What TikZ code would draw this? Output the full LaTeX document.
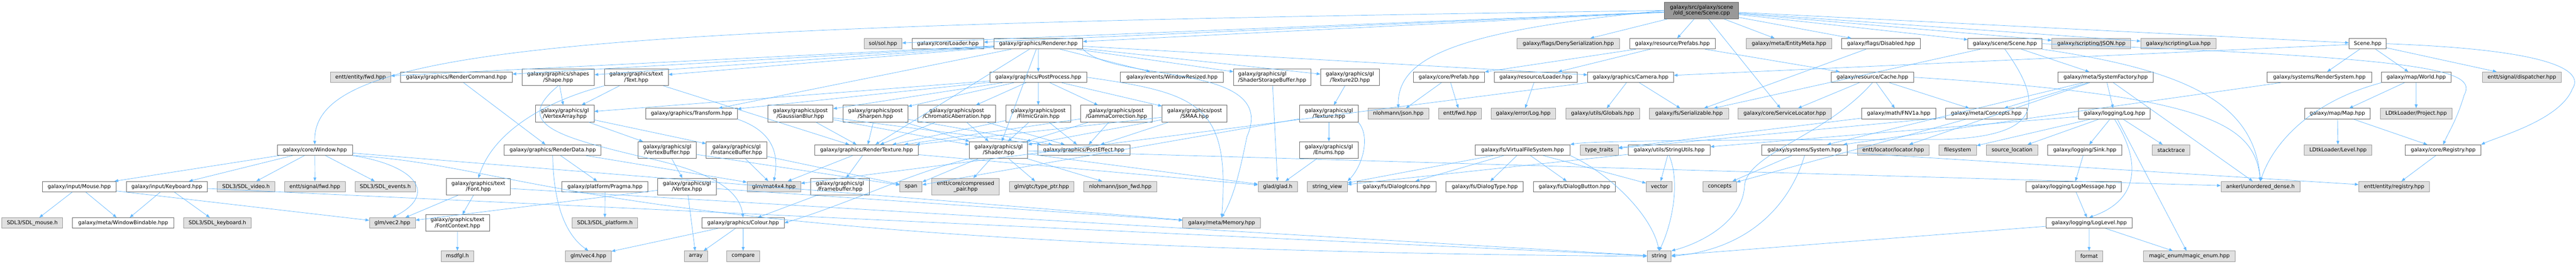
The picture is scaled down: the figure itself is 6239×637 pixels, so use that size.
\documentclass[tikz,border=0pt]{standalone}
\usepackage{fontspec}
\setmainfont{DejaVu Sans}
\usetikzlibrary{arrows.meta}
\definecolor{edgeblue}{HTML}{63B8FF}
\definecolor{wborder}{HTML}{666666}
\definecolor{gborder}{HTML}{999999}
\definecolor{gfill}{HTML}{E0E0E0}
\definecolor{rfill}{HTML}{999999}
\newcommand\nf{\fontsize{12.7}{14.2}\selectfont}
\newcommand\N[6]{\node[#1, minimum width={(#4-#3)*1pt}] (#2) at ({(#3+#4)/2},#5) {#6};}
\begin{document}
\begin{tikzpicture}[x=1pt,y=-1pt,
 wn/.style={draw=wborder, fill=white, line width=1pt, inner xsep=1pt, inner ysep=0pt, minimum height=25.5pt, font=\nf, align=center, text=black},
 gn/.style={wn, draw=gborder, fill=gfill},
 rn/.style={wn, draw=wborder, fill=rfill},
 twoline/.style={minimum height=40.5pt},
 dep/.style={draw=edgeblue, line width=0.9pt, -{Triangle[length=9pt,width=7pt]}}]
\fill[white] (0,0) rectangle (6239,637);
\useasboundingbox (0,0) rectangle (6239,637);
% R0
\N{rn,twoline}{root}{4031.4}{4211}{25.4}{galaxy/src/galaxy/scene\\/old\_scene/Scene.cpp}
% R1
\N{gn}{sol}{2092.7}{2184.3}{105.6}{sol/sol.hpp}
\N{wn}{coreloader}{2209.1}{2382.4}{105.6}{galaxy/core/Loader.hpp}
\N{wn}{renderer}{2407.2}{2622.4}{105.6}{galaxy/graphics/Renderer.hpp}
\N{gn}{denyser}{3674.5}{3922.2}{105.6}{galaxy/flags/DenySerialization.hpp}
\N{wn}{prefabs}{3946.9}{4154.1}{105.6}{galaxy/resource/Prefabs.hpp}
\N{gn}{entitymeta}{4229.3}{4436.5}{105.6}{galaxy/meta/EntityMeta.hpp}
\N{wn}{disabled}{4460.5}{4651.1}{105.6}{galaxy/flags/Disabled.hpp}
\N{wn}{scenescene}{4766.2}{4945.3}{105.6}{galaxy/scene/Scene.hpp}
\N{gn}{json}{4969.7}{5160.6}{105.6}{galaxy/scripting/JSON.hpp}
\N{gn}{lua}{5185}{5366.6}{105.6}{galaxy/scripting/Lua.hpp}
\N{wn}{scenehpp}{5689.4}{5779.3}{105.6}{Scene.hpp}
% R2
\N{gn}{entityfwd}{800.7}{946}{186.6}{entt/entity/fwd.hpp}
\N{wn}{rendercommand}{969.8}{1240.8}{186.6}{galaxy/graphics/RenderCommand.hpp}
\N{wn,twoline}{shape}{1264.2}{1439.5}{186.6}{galaxy/graphics/shapes\\/Shape.hpp}
\N{wn,twoline}{text}{1463.6}{1618.5}{186.6}{galaxy/graphics/text\\/Text.hpp}
\N{wn}{postprocess}{2397.2}{2632}{186.6}{galaxy/graphics/PostProcess.hpp}
\N{wn}{windowresized}{2713.7}{2963.3}{186.6}{galaxy/events/WindowResized.hpp}
\N{wn,twoline,align=left}{ssbo}{2987.8}{3174.8}{186.6}{galaxy/graphics/gl\\/ShaderStorageBuffer.hpp}
\N{wn,twoline}{texture2d}{3198.4}{3340.4}{186.6}{galaxy/graphics/gl\\/Texture2D.hpp}
\N{wn}{prefab}{3423.2}{3595.6}{186.6}{galaxy/core/Prefab.hpp}
\N{wn}{resloader}{3619.2}{3820.2}{186.6}{galaxy/resource/Loader.hpp}
\N{wn}{camera}{3845.2}{4053.4}{186.6}{galaxy/graphics/Camera.hpp}
\N{wn}{cache}{4435.5}{4634.2}{186.6}{galaxy/resource/Cache.hpp}
\N{wn}{systemfactory}{4984.5}{5215.2}{186.6}{galaxy/meta/SystemFactory.hpp}
\N{wn}{rendersystem}{5491}{5743.5}{186.6}{galaxy/systems/RenderSystem.hpp}
\N{wn}{world}{5767.8}{5936.1}{186.6}{galaxy/map/World.hpp}
\N{gn}{dispatcher}{6012.5}{6203.2}{186.6}{entt/signal/dispatcher.hpp}
% R3
\N{wn,twoline}{vertexarray}{1296.9}{1438.8}{274.6}{galaxy/graphics/gl\\/VertexArray.hpp}
\N{wn}{transform}{1563.4}{1785.6}{274.6}{galaxy/graphics/Transform.hpp}
\N{wn,twoline}{gaussian}{1859.6}{2017.4}{274.6}{galaxy/graphics/post\\/GaussianBlur.hpp}
\N{wn,twoline}{sharpen}{2041.5}{2198.8}{274.6}{galaxy/graphics/post\\/Sharpen.hpp}
\N{wn,twoline}{chromatic}{2222.6}{2411.7}{274.6}{galaxy/graphics/post\\/ChromaticAberration.hpp}
\N{wn,twoline}{filmic}{2435.8}{2593.5}{274.6}{galaxy/graphics/post\\/FilmicGrain.hpp}
\N{wn,twoline}{gamma}{2617.2}{2790.5}{274.6}{galaxy/graphics/post\\/GammaCorrection.hpp}
\N{wn,twoline}{smaa}{2814.6}{2972}{274.6}{galaxy/graphics/post\\/SMAA.hpp}
\N{wn,twoline}{texture}{3147.7}{3289.3}{274.6}{galaxy/graphics/gl\\/Texture.hpp}
\N{gn}{njson}{3313}{3460}{274.6}{nlohmann/json.hpp}
\N{gn}{enttfwd}{3484.4}{3587.5}{274.6}{entt/fwd.hpp}
\N{gn}{errlog}{3611.1}{3767.4}{274.6}{galaxy/error/Log.hpp}
\N{gn}{globals}{3792.1}{3970.6}{274.6}{galaxy/utils/Globals.hpp}
\N{gn}{serializable}{3994.9}{4186.4}{274.6}{galaxy/fs/Serializable.hpp}
\N{gn}{servicelocator}{4209.7}{4435.5}{274.6}{galaxy/core/ServiceLocator.hpp}
\N{wn}{fnv}{4509.2}{4688}{274.6}{galaxy/math/FNV1a.hpp}
\N{wn}{concepts}{4712.4}{4908.8}{274.6}{galaxy/meta/Concepts.hpp}
\N{wn}{log}{5034.2}{5208}{274.6}{galaxy/logging/Log.hpp}
\N{wn}{map}{5581.3}{5740.8}{274.6}{galaxy/map/Map.hpp}
\N{gn}{project}{5765.1}{5938.5}{274.6}{LDtkLoader/Project.hpp}
% R4
\N{wn}{window}{671.5}{853.4}{362.4}{galaxy/core/Window.hpp}
\N{wn}{renderdata}{1221.2}{1456}{362.4}{galaxy/graphics/RenderData.hpp}
\N{wn,twoline}{vertexbuffer}{1544.9}{1686.4}{362.4}{galaxy/graphics/gl\\/VertexBuffer.hpp}
\N{wn,twoline}{instancebuffer}{1710.5}{1857.2}{362.4}{galaxy/graphics/gl\\/InstanceBuffer.hpp}
\N{wn}{rendertexture}{1973.3}{2224}{362.4}{galaxy/graphics/RenderTexture.hpp}
\N{wn,twoline}{shader}{2347.9}{2489.1}{362.4}{galaxy/graphics/gl\\/Shader.hpp}
\N{wn}{posteffect}{2513.2}{2736.7}{362.4}{galaxy/graphics/PostEffect.hpp}
\N{wn,twoline}{enums}{3147.7}{3289.3}{362.4}{galaxy/graphics/gl\\/Enums.hpp}
\N{wn}{vfs}{3572.9}{3802.6}{362.4}{galaxy/fs/VirtualFileSystem.hpp}
\N{gn}{typetraits}{3826.9}{3919.2}{362.4}{type\_traits}
\N{wn}{stringutils}{3943.2}{4142}{362.4}{galaxy/utils/StringUtils.hpp}
\N{wn}{system}{4267.1}{4474}{362.4}{galaxy/systems/System.hpp}
\N{gn}{locator}{4498.3}{4672.1}{362.4}{entt/locator/locator.hpp}
\N{gn}{filesystem}{4695.5}{4786.8}{362.4}{filesystem}
\N{gn}{sourceloc}{4811.1}{4935.2}{362.4}{source\_location}
\N{wn}{sink}{4959.5}{5139}{362.4}{galaxy/logging/Sink.hpp}
\N{gn}{stacktrace}{5212.8}{5304.1}{362.4}{stacktrace}
\N{gn}{level}{5581}{5744.2}{362.4}{LDtkLoader/Level.hpp}
\N{wn}{registry}{5825.6}{6008.8}{362.4}{galaxy/core/Registry.hpp}
% R5
\N{wn}{mouse}{102.3}{281.4}{450.9}{galaxy/input/Mouse.hpp}
\N{wn}{keyboard}{305.8}{502.2}{450.9}{galaxy/input/Keyboard.hpp}
\N{gn}{sdlvideo}{526.2}{665.3}{450.9}{SDL3/SDL\_video.h}
\N{gn}{signalfwd}{689.1}{836.2}{450.9}{entt/signal/fwd.hpp}
\N{gn}{sdlevents}{859.6}{1006.6}{450.9}{SDL3/SDL\_events.h}
\N{wn,twoline}{font}{1081}{1236.3}{450.9}{galaxy/graphics/text\\/Font.hpp}
\N{wn}{pragma}{1361}{1569.3}{450.9}{galaxy/platform/Pragma.hpp}
\N{wn,twoline}{vertex}{1593}{1734.6}{450.9}{galaxy/graphics/gl\\/Vertex.hpp}
\N{gn}{mat4}{1809.4}{1939.2}{450.9}{glm/mat4x4.hpp}
\N{wn,twoline}{framebuffer}{1963.6}{2105.1}{450.9}{galaxy/graphics/gl\\/Framebuffer.hpp}
\N{gn}{span}{2179.5}{2233.3}{450.9}{span}
\N{gn,twoline}{cpair}{2257}{2420.3}{450.9}{entt/core/compressed\\\_pair.hpp}
\N{gn}{typeptr}{2444.4}{2600.7}{450.9}{glm/gtc/type\_ptr.hpp}
\N{gn}{jsonfwd}{2625.1}{2801.5}{450.9}{nlohmann/json\_fwd.hpp}
\N{gn}{glad}{3047}{3142.3}{450.9}{glad/glad.h}
\N{gn}{stringview}{3165.6}{3263.3}{450.9}{string\_view}
\N{wn}{dialogicons}{3287}{3478}{450.9}{galaxy/fs/DialogIcons.hpp}
\N{wn}{dialogtype}{3502.3}{3689.3}{450.9}{galaxy/fs/DialogType.hpp}
\N{wn}{dialogbutton}{3713.7}{3912.8}{450.9}{galaxy/fs/DialogButton.hpp}
\N{gn}{vector}{3987.1}{4050}{450.9}{vector}
\N{gn}{stdconcepts}{4125}{4205.3}{450.9}{concepts}
\N{wn}{logmessage}{4907.1}{5138}{450.9}{galaxy/logging/LogMessage.hpp}
\N{gn}{ankerl}{5379.1}{5570.1}{450.9}{ankerl/unordered\_dense.h}
\N{gn}{enttregistry}{5712.7}{5884.1}{450.9}{entt/entity/registry.hpp}
% R6
\N{gn}{sdlmouse}{4.5}{151.9}{538.6}{SDL3/SDL\_mouse.h}
\N{wn}{windowbindable}{175.6}{421.2}{538.6}{galaxy/meta/WindowBindable.hpp}
\N{gn}{sdlkeyboard}{445}{608.2}{538.6}{SDL3/SDL\_keyboard.h}
\N{gn}{vec2}{894.7}{1005.9}{538.6}{glm/vec2.hpp}
\N{wn,twoline}{fontcontext}{1030.7}{1185.3}{538.6}{galaxy/graphics/text\\/FontContext.hpp}
\N{gn}{sdlplatform}{1385.4}{1544.5}{538.6}{SDL3/SDL\_platform.h}
\N{wn}{colour}{1700.5}{1899.2}{538.6}{galaxy/graphics/Colour.hpp}
\N{gn}{memory}{2864.5}{3052.9}{538.6}{galaxy/meta/Memory.hpp}
\N{wn}{loglevel}{4955.8}{5164}{538.6}{galaxy/logging/LogLevel.hpp}
% R7
\N{gn}{msdfgl}{1068.2}{1147.5}{619}{msdfgl.h}
\N{gn}{vec4}{1369.6}{1480.5}{619}{glm/vec4.hpp}
\N{gn}{array}{1657.1}{1713.3}{619}{array}
\N{gn}{compare}{1760.4}{1839.3}{619}{compare}
\N{gn}{string}{3989.2}{4047.6}{619}{string}
\N{gn}{format}{5026.5}{5093}{619}{format}
\N{gn}{magicenum}{5191}{5414}{619}{magic\_enum/magic\_enum.hpp}
% straight edges
\foreach \a/\b in {root/sol, root/coreloader, root/renderer, root/denyser, root/prefabs, root/entitymeta,
 root/disabled, root/scenescene, root/json, root/lua, root/scenehpp, root/servicelocator,
 renderer/entityfwd, renderer/rendercommand, renderer/shape, renderer/text, renderer/transform,
 renderer/postprocess, renderer/windowresized, renderer/ssbo, renderer/texture2d, renderer/camera,
 renderer/rendertexture, renderer/shader,
 postprocess/gaussian, postprocess/sharpen, postprocess/chromatic, postprocess/filmic, postprocess/gamma,
 postprocess/smaa, postprocess/vertexarray, postprocess/transform,
 gaussian/rendertexture, gaussian/shader, gaussian/posteffect,
 sharpen/rendertexture, sharpen/shader, sharpen/posteffect,
 chromatic/rendertexture, chromatic/shader, chromatic/posteffect,
 filmic/rendertexture, filmic/shader, filmic/posteffect,
 gamma/rendertexture, gamma/shader, gamma/posteffect,
 smaa/rendertexture, smaa/shader, smaa/posteffect,
 rendercommand/renderdata, renderdata/pragma, renderdata/mat4, pragma/sdlplatform,
 shape/vertexarray, text/vertexarray, text/rendertexture,
 vertexarray/vertexbuffer, vertexarray/instancebuffer,
 vertexbuffer/vertex, vertexbuffer/span, instancebuffer/mat4, instancebuffer/span,
 vertex/array, vertex/vec2, vertex/memory,
 colour/array, colour/compare, colour/vec4, framebuffer/colour,
 shader/cpair, shader/typeptr, shader/span, shader/jsonfwd, shader/glad, shader/ankerl,
 rendertexture/framebuffer, rendertexture/mat4, rendertexture/glad,
 font/fontcontext, font/vec2, font/string, fontcontext/msdfgl,
 texture2d/texture, texture/enums, texture/span, enums/glad, ssbo/glad,
 camera/globals, camera/serializable, camera/mat4,
 prefabs/resloader, prefabs/prefab, prefabs/cache, prefab/njson, prefab/enttfwd, resloader/errlog,
 cache/servicelocator, cache/fnv, cache/concepts, fnv/typetraits,
 system/stdconcepts, system/enttregistry,
 systemfactory/system, systemfactory/concepts, systemfactory/log, systemfactory/locator, systemfactory/ankerl,
 concepts/stdconcepts, concepts/typetraits,
 log/filesystem, log/sourceloc, log/sink, log/stacktrace, log/stringutils, log/magicenum,
 sink/logmessage, logmessage/loglevel, loglevel/format, loglevel/magicenum, loglevel/string,
 stringutils/vector, stringutils/stringview,
 vfs/dialogicons, vfs/dialogtype, vfs/dialogbutton, vfs/vector, vfs/stringview,
 scenescene/systemfactory, scenescene/serializable, disabled/serializable,
 scenehpp/rendersystem, scenehpp/world, scenehpp/dispatcher, scenehpp/camera,
 rendersystem/system, world/map, world/project, map/level, map/registry, registry/enttregistry,
 window/mouse, window/keyboard, window/sdlvideo, window/signalfwd, window/sdlevents, window/memory,
 mouse/sdlmouse, mouse/windowbindable, mouse/vec2,
 keyboard/windowbindable, keyboard/sdlkeyboard, keyboard/string}
 {\draw[dep] (\a) -- (\b);}
% curved edges
\draw[dep] (root.west) .. controls (1400,62) and (757,110) .. (window.north);
\draw[dep] (root.west) .. controls (3520,75) and (3385,140) .. (njson.north);
\draw[dep] (window.south east) .. controls (1010,400) and (1060,470) .. (vec2.north);
\draw[dep] (window.south east) .. controls (1300,400) and (1450,600) .. (string.west);
\draw[dep] (text.south west) .. controls (1300,250) and (1190,330) .. (font.north);
\draw[dep] (shape.south) .. controls (1240,300) and (1350,330) .. (1560,380) .. controls (1700,410) and (1790,450) .. (colour.north);
\draw[dep] (transform.south east) .. controls (1880,320) and (1885,380) .. (mat4.north);
\draw[dep] (renderdata.south) .. controls (1340,470) and (1360,560) .. (vec4.north);
\draw[dep] (shader.south west) .. controls (2200,420) and (2060,490) .. (colour.east);
\draw[dep] (renderer.south east) .. controls (2700,200) and (3100,150) .. (3020,330) .. controls (3000,430) and (2985,480) .. (memory.north);
\draw[dep] (postprocess.east) .. controls (2900,225) and (2980,250) .. (memory.north);
\draw[dep] (texture.south east) .. controls (3320,330) and (3300,400) .. (stringview.north east);
\draw[dep] (cache.south) .. controls (4420,330) and (4230,370) .. (4225,450) .. controls (4220,540) and (4110,590) .. (string.north east);
\draw[dep] (cache.east) .. controls (5350,230) and (5460,300) .. (ankerl.north);
\draw[dep] (system.south) .. controls (4340,480) and (4250,600) .. (string.east);
\draw[dep] (vfs.south east) .. controls (3900,420) and (4000,520) .. (string.north);
\draw[dep] (stringutils.south) .. controls (4070,440) and (4050,540) .. (string.north);
\draw[dep] (log.south) .. controls (5180,380) and (5190,480) .. (loglevel.north);
\draw[dep] (scenescene.south) .. controls (4950,250) and (4950,330) .. (4700,337) .. controls (4200,337) and (3850,340) .. (vfs.north east);
\draw[dep] (scenescene.south east) .. controls (5300,170) and (5460,250) .. (ankerl.north);
\draw[dep] (scenescene.east) .. controls (5900,140) and (6000,170) .. (5968,230) .. controls (5950,290) and (5930,320) .. (registry.north);
\draw[dep] (scenehpp.east) .. controls (6180,120) and (6260,170) .. (6230,215) .. controls (6200,290) and (6050,330) .. (registry.north east);
\draw[dep] (world.south west) .. controls (5580,250) and (5500,360) .. (ankerl.north);
\end{tikzpicture}
\end{document}
